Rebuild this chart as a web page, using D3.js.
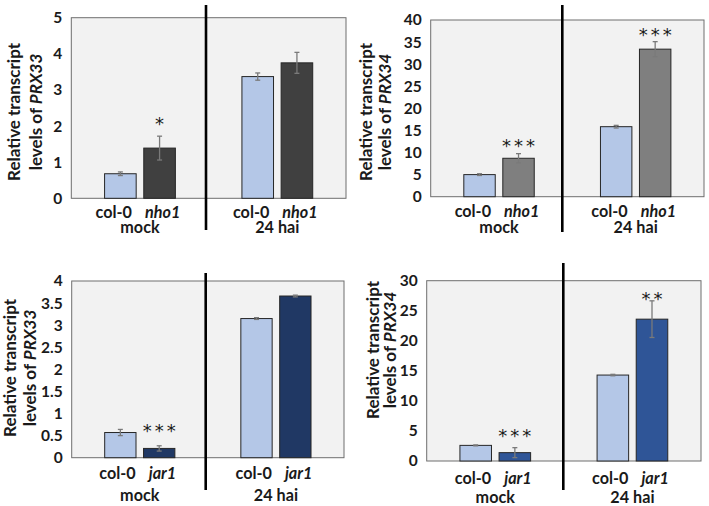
<!DOCTYPE html>
<html><head><meta charset="utf-8">
<script src="https://cdn.jsdelivr.net/npm/d3@7"></script>
<style>body{margin:0;background:#fff}svg{display:block}text{font-family:Lato,"Open Sans",sans-serif;font-weight:bold;fill:#1a1a1a}</style>
</head><body><svg id="c" width="709" height="506"></svg>
<script>
// ---- data ----
const groups = ["mock", "24 hai"];
const genotypesNho = ["col-0", "nho1"];
const genotypesJar = ["col-0", "jar1"];
// order: [mock col-0, mock mutant, 24hai col-0, 24hai mutant]
const prx33Nho1Mean = [0.68, 1.39, 3.37, 3.75];
const prx33Nho1Err  = [0.05, 0.33, 0.10, 0.29];
const prx34Nho1Mean = [5.0, 8.7, 15.85, 33.4];
const prx34Nho1Err  = [0.2, 1.05, 0.3, 1.7];
const prx33Jar1Mean = [0.57, 0.21, 3.15, 3.66];
const prx33Jar1Err  = [0.07, 0.06, 0.02, 0.02];
const prx34Jar1Mean = [2.6, 1.39, 14.3, 23.6];
const prx34Jar1Err  = [0.08, 0.83, 0.12, 3.05];
// significance marks: [group, genotype, label, annotation height in data units]
const prx33Nho1Sig = [["mock", "nho1", "*", 2.15]];
const prx34Nho1Sig = [["mock", "nho1", "***", 12.2], ["24 hai", "nho1", "***", 37.2]];
const prx33Jar1Sig = [["mock", "jar1", "***", 0.67]];
const prx34Jar1Sig = [["mock", "jar1", "***", 4.7], ["24 hai", "jar1", "**", 27.5]];
const yTicks33a = [0, 1, 2, 3, 4, 5];
const yTicks34a = [0, 5, 10, 15, 20, 25, 30, 35, 40];
const yTicks33b = [0, 0.5, 1, 1.5, 2, 2.5, 3, 3.5, 4];
const yTicks34b = [0, 5, 10, 15, 20, 25, 30];

const svg = d3.select("#c");

const panels = [
  {gene:"PRX33", genos:genotypesNho, mean:prx33Nho1Mean, err:prx33Nho1Err, sig:prx33Nho1Sig, ticks:yTicks33a, max:5,
   mutColor:"#404040", x0:71.3, x1:346, y0:17.7, y1:198.3, div:[206,5,230], tx:[13,35], ty:112, lab1:210.5, lab2:226},
  {gene:"PRX34", genos:genotypesNho, mean:prx34Nho1Mean, err:prx34Nho1Err, sig:prx34Nho1Sig, ticks:yTicks34a, max:40,
   mutColor:"#7f7f7f", x0:430.7, x1:704, y0:20, y1:196.7, div:[562.3,5,232], tx:[365,384], ty:112, lab1:210, lab2:226.5},
  {gene:"PRX33", genos:genotypesJar, mean:prx33Jar1Mean, err:prx33Jar1Err, sig:prx33Jar1Sig, ticks:yTicks33b, max:4,
   mutColor:"#203864", x0:71.7, x1:344, y0:281, y1:457.7, div:[205.7,273,490], tx:[9,29], ty:368, lab1:472, lab2:494},
  {gene:"PRX34", genos:genotypesJar, mean:prx34Jar1Mean, err:prx34Jar1Err, sig:prx34Jar1Sig, ticks:yTicks34b, max:30,
   mutColor:"#2f5597", x0:426.7, x1:701, y0:280.7, y1:461, div:[563.3,263,490], tx:[372,389], ty:350, lab1:477, lab2:496.5}
];

panels.forEach(p => {
  const g = svg.append("g");
  const x = d3.scaleBand().domain(groups).range([p.x0, p.x1]).padding(0);
  const xi = d3.scaleBand().domain(p.genos).range([0, x.bandwidth()]).paddingInner(0.194).paddingOuter(0.849);
  const y = d3.scaleLinear().domain([0, p.max]).range([p.y1, p.y0]);
  const color = d3.scaleOrdinal().domain(p.genos).range(["#b4c7e7", p.mutColor]);

  // plot area
  g.append("rect").attr("x", p.x0).attr("y", p.y0).attr("width", p.x1 - p.x0).attr("height", p.y1 - p.y0)
    .attr("fill", "#f2f2f2").attr("stroke", "#6e6e6e").attr("stroke-width", 1);

  const rows = [];
  groups.forEach((gr, gi) => p.genos.forEach((ge, ki) => {
    const i = gi * 2 + ki;
    rows.push({group: gr, geno: ge, v: p.mean[i], e: p.err[i]});
  }));

  g.selectAll("rect.bar").data(rows).join("rect").attr("class", "bar")
    .attr("x", d => x(d.group) + xi(d.geno)).attr("width", xi.bandwidth())
    .attr("y", d => y(d.v)).attr("height", d => y(0) - y(d.v))
    .attr("fill", d => color(d.geno)).attr("stroke", "#262626").attr("stroke-width", 1);

  // error bars
  const eb = g.selectAll("g.eb").data(rows).join("g").attr("class", "eb")
    .attr("stroke", "#7a7a7a").attr("stroke-width", 1.3);
  eb.append("line").attr("x1", d => x(d.group) + xi(d.geno) + xi.bandwidth() / 2)
    .attr("x2", d => x(d.group) + xi(d.geno) + xi.bandwidth() / 2)
    .attr("y1", d => y(d.v - d.e)).attr("y2", d => y(d.v + d.e));
  ["-", "+"].forEach(s => {
    eb.append("line").attr("x1", d => x(d.group) + xi(d.geno) + xi.bandwidth() / 2 - 2.5)
      .attr("x2", d => x(d.group) + xi(d.geno) + xi.bandwidth() / 2 + 2.5)
      .attr("y1", d => y(s === "+" ? d.v + d.e : d.v - d.e))
      .attr("y2", d => y(s === "+" ? d.v + d.e : d.v - d.e));
  });

  // y axis
  const ax = g.append("g").attr("transform", `translate(${p.x0},0)`)
    .call(d3.axisLeft(y).tickValues(p.ticks).tickSize(0).tickPadding(9).tickFormat(d3.format("")));
  ax.select(".domain").remove();
  ax.selectAll("text").attr("font-size", 15.5).attr("fill", "#1a1a1a")
    .style("font-family", "Lato").style("font-weight", "bold");

  // y title
  g.append("text").attr("transform", `translate(${p.tx[0]},${p.ty}) rotate(-90)`)
    .attr("text-anchor", "middle").attr("dominant-baseline", "central").attr("font-size", 17).text("Relative transcript");
  const t2 = g.append("text").attr("transform", `translate(${p.tx[1]},${p.ty}) rotate(-90)`)
    .attr("text-anchor", "middle").attr("dominant-baseline", "central").attr("font-size", 17);
  t2.append("tspan").text("levels of ");
  t2.append("tspan").attr("font-style", "italic").text(p.gene);

  // x labels: genotype pair per group, then group name
  const gl = g.selectAll("text.gl").data(groups).join("text").attr("class", "gl")
    .attr("x", d => x(d) + x.bandwidth() / 2 - 2).attr("y", p.lab1)
    .attr("text-anchor", "middle").attr("dominant-baseline", "central").attr("font-size", 16.2);
  gl.append("tspan").text(p.genos[0]);
  gl.append("tspan").attr("dx", 13).attr("font-style", "italic").text(p.genos[1]);
  g.selectAll("text.grl").data(groups).join("text").attr("class", "grl")
    .attr("x", d => x(d) + x.bandwidth() / 2).attr("y", p.lab2)
    .attr("text-anchor", "middle").attr("dominant-baseline", "central").attr("font-size", 16.2).text(d => d);

  // significance
  g.selectAll("text.sig").data(p.sig).join("text").attr("class", "sig")
    .attr("x", d => x(d[0]) + xi(d[1]) + xi.bandwidth() / 2 + 1.5)
    .attr("y", d => y(d[3]) + 9).attr("text-anchor", "middle")
    .attr("font-size", 18).attr("letter-spacing", 3)
    .style("font-family", "DejaVu Sans").style("font-weight", "normal").attr("fill", "#333").text(d => d[2]);

  // divider
  g.append("line").attr("x1", p.div[0]).attr("x2", p.div[0]).attr("y1", p.div[1]).attr("y2", p.div[2])
    .attr("stroke", "#000").attr("stroke-width", 2.6);
});
</script></body></html>
